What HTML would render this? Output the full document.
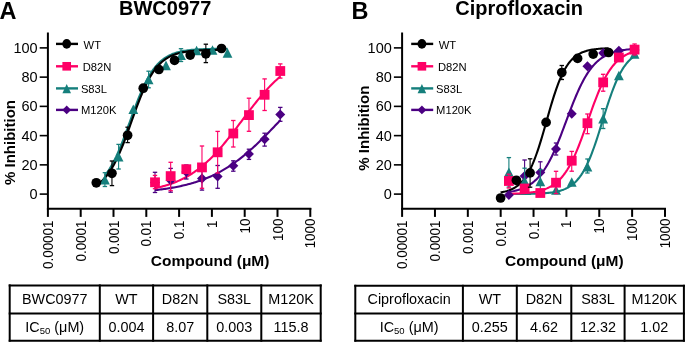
<!DOCTYPE html>
<html><head><meta charset="utf-8"><style>
html,body{margin:0;padding:0;background:#fff;}
svg{display:block;will-change:transform;}
svg text{font-family:"Liberation Sans", sans-serif;fill:#000;}
</style></head><body>
<svg width="685" height="342" viewBox="0 0 685 342">
<rect width="685" height="342" fill="#fff"/>
<text x="-0.6" y="19.2" font-size="23.5" font-weight="bold">A</text>
<line x1="47.90" y1="32.5" x2="47.90" y2="209.9" stroke="#000" stroke-width="2"/>
<line x1="47.90" y1="208.8" x2="311.30" y2="208.8" stroke="#000" stroke-width="2"/>
<line x1="39.70" y1="194.10" x2="47.90" y2="194.10" stroke="#000" stroke-width="1.6"/>
<text x="37.60" y="199.20" font-size="14.5" text-anchor="end">0</text>
<line x1="39.70" y1="164.86" x2="47.90" y2="164.86" stroke="#000" stroke-width="1.6"/>
<text x="37.60" y="169.96" font-size="14.5" text-anchor="end">20</text>
<line x1="39.70" y1="135.62" x2="47.90" y2="135.62" stroke="#000" stroke-width="1.6"/>
<text x="37.60" y="140.72" font-size="14.5" text-anchor="end">40</text>
<line x1="39.70" y1="106.37" x2="47.90" y2="106.37" stroke="#000" stroke-width="1.6"/>
<text x="37.60" y="111.47" font-size="14.5" text-anchor="end">60</text>
<line x1="39.70" y1="77.13" x2="47.90" y2="77.13" stroke="#000" stroke-width="1.6"/>
<text x="37.60" y="82.23" font-size="14.5" text-anchor="end">80</text>
<line x1="39.70" y1="47.89" x2="47.90" y2="47.89" stroke="#000" stroke-width="1.6"/>
<text x="37.60" y="52.99" font-size="14.5" text-anchor="end">100</text>
<line x1="47.90" y1="208" x2="47.90" y2="216.9" stroke="#000" stroke-width="2"/>
<text transform="translate(52.90,220.60) rotate(-90)" font-size="14" text-anchor="end" textLength="48.32" lengthAdjust="spacingAndGlyphs">0.00001</text>
<line x1="80.70" y1="208" x2="80.70" y2="216.9" stroke="#000" stroke-width="2"/>
<text transform="translate(85.70,220.60) rotate(-90)" font-size="14" text-anchor="end" textLength="40.89" lengthAdjust="spacingAndGlyphs">0.0001</text>
<line x1="113.50" y1="208" x2="113.50" y2="216.9" stroke="#000" stroke-width="2"/>
<text transform="translate(118.50,220.60) rotate(-90)" font-size="14" text-anchor="end" textLength="33.45" lengthAdjust="spacingAndGlyphs">0.001</text>
<line x1="146.30" y1="208" x2="146.30" y2="216.9" stroke="#000" stroke-width="2"/>
<text transform="translate(151.30,220.60) rotate(-90)" font-size="14" text-anchor="end" textLength="26.01" lengthAdjust="spacingAndGlyphs">0.01</text>
<line x1="179.10" y1="208" x2="179.10" y2="216.9" stroke="#000" stroke-width="2"/>
<text transform="translate(184.10,220.60) rotate(-90)" font-size="14" text-anchor="end" textLength="18.57" lengthAdjust="spacingAndGlyphs">0.1</text>
<line x1="211.90" y1="208" x2="211.90" y2="216.9" stroke="#000" stroke-width="2"/>
<text transform="translate(216.90,220.60) rotate(-90)" font-size="14" text-anchor="end" textLength="7.44" lengthAdjust="spacingAndGlyphs">1</text>
<line x1="244.70" y1="208" x2="244.70" y2="216.9" stroke="#000" stroke-width="2"/>
<text transform="translate(249.70,218.60) rotate(-90)" font-size="14" text-anchor="end" textLength="14.88" lengthAdjust="spacingAndGlyphs">10</text>
<line x1="277.50" y1="208" x2="277.50" y2="216.9" stroke="#000" stroke-width="2"/>
<text transform="translate(282.50,218.60) rotate(-90)" font-size="14" text-anchor="end" textLength="22.31" lengthAdjust="spacingAndGlyphs">100</text>
<line x1="310.30" y1="208" x2="310.30" y2="216.9" stroke="#000" stroke-width="2"/>
<text transform="translate(315.30,218.60) rotate(-90)" font-size="14" text-anchor="end" textLength="29.75" lengthAdjust="spacingAndGlyphs">1000</text>
<text x="119.00" y="14.6" font-size="20" font-weight="bold">BWC0977</text>
<text x="150.80" y="266" font-size="15.5" font-weight="bold" textLength="118.6" lengthAdjust="spacingAndGlyphs">Compound (μM)</text>
<text transform="translate(15.10,142.50) rotate(-90)" font-size="15" font-weight="bold" text-anchor="middle">% Inhibition</text>
<line x1="56.00" y1="43.90" x2="78.00" y2="43.90" stroke="#000000" stroke-width="2.4"/>
<ellipse cx="66.70" cy="43.90" rx="4.4" ry="4.8" fill="#000000"/>
<text x="83.60" y="48.80" font-size="11.2">WT</text>
<line x1="56.00" y1="66.30" x2="78.00" y2="66.30" stroke="#FF0066" stroke-width="2.4"/>
<rect x="62.39" y="61.99" width="8.62" height="8.62" fill="#FF0066"/>
<text x="82.70" y="70.70" font-size="11.2">D82N</text>
<line x1="56.00" y1="88.40" x2="78.00" y2="88.40" stroke="#157F7C" stroke-width="2.4"/>
<polygon points="66.70,83.90 71.01,93.30 62.39,93.30" fill="#157F7C"/>
<text x="80.90" y="93.00" font-size="11.2">S83L</text>
<line x1="56.00" y1="109.90" x2="78.00" y2="109.90" stroke="#4B0082" stroke-width="2.4"/>
<polygon points="66.70,105.50 71.10,109.90 66.70,114.30 62.30,109.90" fill="#4B0082"/>
<text x="80.90" y="114.40" font-size="11.2">M120K</text>
<polyline points="155.00,190.16 156.27,190.02 157.53,189.87 158.80,189.72 160.06,189.56 161.33,189.40 162.59,189.23 163.86,189.05 165.12,188.87 166.39,188.69 167.65,188.49 168.92,188.29 170.19,188.09 171.45,187.87 172.72,187.65 173.98,187.42 175.25,187.19 176.51,186.95 177.78,186.69 179.04,186.43 180.31,186.16 181.57,185.89 182.84,185.60 184.11,185.30 185.37,185.00 186.64,184.68 187.90,184.35 189.17,184.02 190.43,183.67 191.70,183.31 192.96,182.94 194.23,182.56 195.49,182.17 196.76,181.76 198.03,181.35 199.29,180.92 200.56,180.47 201.82,180.01 203.09,179.54 204.35,179.06 205.62,178.56 206.88,178.05 208.15,177.52 209.41,176.98 210.68,176.42 211.95,175.84 213.21,175.25 214.48,174.65 215.74,174.03 217.01,173.39 218.27,172.73 219.54,172.06 220.80,171.37 222.07,170.66 223.33,169.93 224.60,169.19 225.87,168.43 227.13,167.65 228.40,166.85 229.66,166.03 230.93,165.20 232.19,164.34 233.46,163.47 234.72,162.58 235.99,161.67 237.25,160.74 238.52,159.79 239.79,158.83 241.05,157.85 242.32,156.84 243.58,155.82 244.85,154.78 246.11,153.73 247.38,152.66 248.64,151.57 249.91,150.46 251.17,149.34 252.44,148.20 253.71,147.04 254.97,145.87 256.24,144.69 257.50,143.49 258.77,142.28 260.03,141.05 261.30,139.82 262.56,138.57 263.83,137.31 265.09,136.04 266.36,134.76 267.63,133.47 268.89,132.17 270.16,130.87 271.42,129.56 272.69,128.24 273.95,126.92 275.22,125.60 276.48,124.27 277.75,122.94 279.01,121.61 280.28,120.28" fill="none" stroke="#4B0082" stroke-width="2.1" stroke-linejoin="round"/>
<polyline points="155.00,188.17 156.27,187.90 157.53,187.62 158.80,187.33 160.06,187.02 161.33,186.70 162.59,186.37 163.86,186.03 165.12,185.67 166.39,185.29 167.65,184.90 168.92,184.50 170.19,184.07 171.45,183.63 172.72,183.18 173.98,182.70 175.25,182.20 176.51,181.69 177.78,181.15 179.04,180.60 180.31,180.02 181.57,179.42 182.84,178.80 184.11,178.16 185.37,177.49 186.64,176.80 187.90,176.08 189.17,175.34 190.43,174.57 191.70,173.77 192.96,172.95 194.23,172.10 195.49,171.23 196.76,170.32 198.03,169.39 199.29,168.42 200.56,167.43 201.82,166.41 203.09,165.36 204.35,164.27 205.62,163.16 206.88,162.02 208.15,160.85 209.41,159.65 210.68,158.42 211.95,157.15 213.21,155.86 214.48,154.55 215.74,153.20 217.01,151.82 218.27,150.42 219.54,148.99 220.80,147.54 222.07,146.06 223.33,144.56 224.60,143.04 225.87,141.49 227.13,139.93 228.40,138.34 229.66,136.74 230.93,135.12 232.19,133.49 233.46,131.84 234.72,130.19 235.99,128.52 237.25,126.85 238.52,125.17 239.79,123.48 241.05,121.79 242.32,120.11 243.58,118.42 244.85,116.73 246.11,115.05 247.38,113.38 248.64,111.71 249.91,110.06 251.17,108.41 252.44,106.78 253.71,105.16 254.97,103.56 256.24,101.98 257.50,100.41 258.77,98.87 260.03,97.35 261.30,95.85 262.56,94.37 263.83,92.92 265.09,91.49 266.36,90.09 267.63,88.72 268.89,87.37 270.16,86.06 271.42,84.77 272.69,83.51 273.95,82.28 275.22,81.08 276.48,79.91 277.75,78.77 279.01,77.66 280.28,76.58" fill="none" stroke="#FF0066" stroke-width="2.1" stroke-linejoin="round"/>
<polyline points="104.90,175.51 106.14,173.92 107.38,172.21 108.62,170.39 109.85,168.45 111.09,166.38 112.33,164.20 113.57,161.88 114.81,159.44 116.05,156.88 117.28,154.19 118.52,151.39 119.76,148.48 121.00,145.46 122.24,142.35 123.48,139.15 124.71,135.87 125.95,132.53 127.19,129.14 128.43,125.72 129.67,122.28 130.91,118.84 132.14,115.40 133.38,111.99 134.62,108.63 135.86,105.32 137.10,102.07 138.34,98.91 139.57,95.84 140.81,92.87 142.05,90.01 143.29,87.26 144.53,84.63 145.77,82.13 147.01,79.75 148.24,77.49 149.48,75.36 150.72,73.35 151.96,71.47 153.20,69.70 154.44,68.05 155.67,66.51 156.91,65.08 158.15,63.74 159.39,62.51 160.63,61.36 161.87,60.30 163.10,59.32 164.34,58.42 165.58,57.59 166.82,56.82 168.06,56.12 169.30,55.47 170.53,54.88 171.77,54.34 173.01,53.84 174.25,53.38 175.49,52.97 176.73,52.58 177.96,52.23 179.20,51.91 180.44,51.62 181.68,51.36 182.92,51.11 184.16,50.89 185.39,50.69 186.63,50.50 187.87,50.34 189.11,50.18 190.35,50.04 191.59,49.92 192.83,49.80 194.06,49.69 195.30,49.60 196.54,49.51 197.78,49.43 199.02,49.36 200.26,49.29 201.49,49.23 202.73,49.18 203.97,49.13 205.21,49.08 206.45,49.04 207.69,49.00 208.92,48.97 210.16,48.94 211.40,48.91 212.64,48.88 213.88,48.86 215.12,48.84 216.35,48.82 217.59,48.80 218.83,48.78 220.07,48.77 221.31,48.76 222.55,48.74 223.78,48.73 225.02,48.72 226.26,48.71 227.50,48.70" fill="none" stroke="#157F7C" stroke-width="2.1" stroke-linejoin="round"/>
<polyline points="96.30,185.30 97.56,184.44 98.83,183.52 100.09,182.51 101.36,181.41 102.62,180.22 103.89,178.93 105.15,177.54 106.42,176.04 107.68,174.42 108.95,172.69 110.21,170.83 111.48,168.83 112.74,166.71 114.01,164.46 115.27,162.07 116.53,159.54 117.80,156.88 119.06,154.09 120.33,151.18 121.59,148.14 122.86,145.00 124.12,141.76 125.39,138.42 126.65,135.01 127.92,131.54 129.18,128.03 130.45,124.48 131.71,120.92 132.97,117.37 134.24,113.83 135.50,110.34 136.77,106.90 138.03,103.53 139.30,100.25 140.56,97.06 141.83,93.98 143.09,91.01 144.36,88.16 145.62,85.45 146.89,82.86 148.15,80.41 149.42,78.10 150.68,75.92 151.94,73.87 153.21,71.95 154.47,70.16 155.74,68.49 157.00,66.94 158.27,65.50 159.53,64.17 160.80,62.93 162.06,61.80 163.33,60.75 164.59,59.79 165.86,58.90 167.12,58.09 168.38,57.35 169.65,56.67 170.91,56.04 172.18,55.47 173.44,54.95 174.71,54.48 175.97,54.05 177.24,53.65 178.50,53.29 179.77,52.97 181.03,52.67 182.30,52.40 183.56,52.15 184.83,51.93 186.09,51.73 187.35,51.54 188.62,51.37 189.88,51.22 191.15,51.08 192.41,50.96 193.68,50.84 194.94,50.74 196.21,50.64 197.47,50.56 198.74,50.48 200.00,50.41 201.27,50.35 202.53,50.29 203.79,50.24 205.06,50.19 206.32,50.15 207.59,50.11 208.85,50.07 210.12,50.04 211.38,50.01 212.65,49.99 213.91,49.96 215.18,49.94 216.44,49.92 217.71,49.90 218.97,49.89 220.24,49.87 221.50,49.86" fill="none" stroke="#000000" stroke-width="2.1" stroke-linejoin="round"/>
<line x1="155.00" y1="172.30" x2="155.00" y2="192.50" stroke="#4B0082" stroke-width="1.1"/><line x1="152.80" y1="172.30" x2="157.20" y2="172.30" stroke="#4B0082" stroke-width="1.3"/><line x1="152.80" y1="192.50" x2="157.20" y2="192.50" stroke="#4B0082" stroke-width="1.3"/>
<line x1="170.66" y1="168.40" x2="170.66" y2="192.20" stroke="#4B0082" stroke-width="1.1"/><line x1="168.46" y1="168.40" x2="172.86" y2="168.40" stroke="#4B0082" stroke-width="1.3"/><line x1="168.46" y1="192.20" x2="172.86" y2="192.20" stroke="#4B0082" stroke-width="1.3"/>
<line x1="186.32" y1="165.00" x2="186.32" y2="179.00" stroke="#4B0082" stroke-width="1.1"/><line x1="184.12" y1="165.00" x2="188.52" y2="165.00" stroke="#4B0082" stroke-width="1.3"/><line x1="184.12" y1="179.00" x2="188.52" y2="179.00" stroke="#4B0082" stroke-width="1.3"/>
<line x1="201.98" y1="166.70" x2="201.98" y2="190.10" stroke="#4B0082" stroke-width="1.1"/><line x1="199.78" y1="166.70" x2="204.18" y2="166.70" stroke="#4B0082" stroke-width="1.3"/><line x1="199.78" y1="190.10" x2="204.18" y2="190.10" stroke="#4B0082" stroke-width="1.3"/>
<line x1="217.64" y1="165.50" x2="217.64" y2="188.30" stroke="#4B0082" stroke-width="1.1"/><line x1="215.44" y1="165.50" x2="219.84" y2="165.50" stroke="#4B0082" stroke-width="1.3"/><line x1="215.44" y1="188.30" x2="219.84" y2="188.30" stroke="#4B0082" stroke-width="1.3"/>
<line x1="233.30" y1="160.80" x2="233.30" y2="171.20" stroke="#4B0082" stroke-width="1.1"/><line x1="231.10" y1="160.80" x2="235.50" y2="160.80" stroke="#4B0082" stroke-width="1.3"/><line x1="231.10" y1="171.20" x2="235.50" y2="171.20" stroke="#4B0082" stroke-width="1.3"/>
<line x1="248.96" y1="149.20" x2="248.96" y2="159.40" stroke="#4B0082" stroke-width="1.1"/><line x1="246.76" y1="149.20" x2="251.16" y2="149.20" stroke="#4B0082" stroke-width="1.3"/><line x1="246.76" y1="159.40" x2="251.16" y2="159.40" stroke="#4B0082" stroke-width="1.3"/>
<line x1="264.62" y1="133.20" x2="264.62" y2="146.10" stroke="#4B0082" stroke-width="1.1"/><line x1="262.42" y1="133.20" x2="266.82" y2="133.20" stroke="#4B0082" stroke-width="1.3"/><line x1="262.42" y1="146.10" x2="266.82" y2="146.10" stroke="#4B0082" stroke-width="1.3"/>
<line x1="280.28" y1="107.40" x2="280.28" y2="121.30" stroke="#4B0082" stroke-width="1.1"/><line x1="278.08" y1="107.40" x2="282.48" y2="107.40" stroke="#4B0082" stroke-width="1.3"/><line x1="278.08" y1="121.30" x2="282.48" y2="121.30" stroke="#4B0082" stroke-width="1.3"/>
<polygon points="155.00,177.40 160.00,182.40 155.00,187.40 150.00,182.40" fill="#4B0082"/>
<polygon points="170.66,175.30 175.66,180.30 170.66,185.30 165.66,180.30" fill="#4B0082"/>
<polygon points="186.32,167.00 191.32,172.00 186.32,177.00 181.32,172.00" fill="#4B0082"/>
<polygon points="201.98,173.40 206.98,178.40 201.98,183.40 196.98,178.40" fill="#4B0082"/>
<polygon points="217.64,171.60 222.64,176.60 217.64,181.60 212.64,176.60" fill="#4B0082"/>
<polygon points="233.30,160.70 238.30,165.70 233.30,170.70 228.30,165.70" fill="#4B0082"/>
<polygon points="248.96,148.90 253.96,153.90 248.96,158.90 243.96,153.90" fill="#4B0082"/>
<polygon points="264.62,134.30 269.62,139.30 264.62,144.30 259.62,139.30" fill="#4B0082"/>
<polygon points="280.28,109.40 285.28,114.40 280.28,119.40 275.28,114.40" fill="#4B0082"/>
<line x1="155.00" y1="175.40" x2="155.00" y2="188.70" stroke="#FF0066" stroke-width="1.1"/><line x1="152.80" y1="175.40" x2="157.20" y2="175.40" stroke="#FF0066" stroke-width="1.3"/><line x1="152.80" y1="188.70" x2="157.20" y2="188.70" stroke="#FF0066" stroke-width="1.3"/>
<line x1="170.66" y1="162.30" x2="170.66" y2="190.70" stroke="#FF0066" stroke-width="1.1"/><line x1="168.46" y1="162.30" x2="172.86" y2="162.30" stroke="#FF0066" stroke-width="1.3"/><line x1="168.46" y1="190.70" x2="172.86" y2="190.70" stroke="#FF0066" stroke-width="1.3"/>
<line x1="201.98" y1="146.00" x2="201.98" y2="188.30" stroke="#FF0066" stroke-width="1.1"/><line x1="199.78" y1="146.00" x2="204.18" y2="146.00" stroke="#FF0066" stroke-width="1.3"/><line x1="199.78" y1="188.30" x2="204.18" y2="188.30" stroke="#FF0066" stroke-width="1.3"/>
<line x1="217.64" y1="131.40" x2="217.64" y2="173.00" stroke="#FF0066" stroke-width="1.1"/><line x1="215.44" y1="131.40" x2="219.84" y2="131.40" stroke="#FF0066" stroke-width="1.3"/><line x1="215.44" y1="173.00" x2="219.84" y2="173.00" stroke="#FF0066" stroke-width="1.3"/>
<line x1="233.30" y1="120.50" x2="233.30" y2="147.00" stroke="#FF0066" stroke-width="1.1"/><line x1="231.10" y1="120.50" x2="235.50" y2="120.50" stroke="#FF0066" stroke-width="1.3"/><line x1="231.10" y1="147.00" x2="235.50" y2="147.00" stroke="#FF0066" stroke-width="1.3"/>
<line x1="248.96" y1="98.20" x2="248.96" y2="131.30" stroke="#FF0066" stroke-width="1.1"/><line x1="246.76" y1="98.20" x2="251.16" y2="98.20" stroke="#FF0066" stroke-width="1.3"/><line x1="246.76" y1="131.30" x2="251.16" y2="131.30" stroke="#FF0066" stroke-width="1.3"/>
<line x1="264.62" y1="78.90" x2="264.62" y2="110.50" stroke="#FF0066" stroke-width="1.1"/><line x1="262.42" y1="78.90" x2="266.82" y2="78.90" stroke="#FF0066" stroke-width="1.3"/><line x1="262.42" y1="110.50" x2="266.82" y2="110.50" stroke="#FF0066" stroke-width="1.3"/>
<line x1="280.28" y1="63.90" x2="280.28" y2="78.10" stroke="#FF0066" stroke-width="1.1"/><line x1="278.08" y1="63.90" x2="282.48" y2="63.90" stroke="#FF0066" stroke-width="1.3"/><line x1="278.08" y1="78.10" x2="282.48" y2="78.10" stroke="#FF0066" stroke-width="1.3"/>
<rect x="150.10" y="177.40" width="9.80" height="9.80" fill="#FF0066"/>
<rect x="165.76" y="171.20" width="9.80" height="9.80" fill="#FF0066"/>
<rect x="181.42" y="164.30" width="9.80" height="9.80" fill="#FF0066"/>
<rect x="197.08" y="162.50" width="9.80" height="9.80" fill="#FF0066"/>
<rect x="212.74" y="147.40" width="9.80" height="9.80" fill="#FF0066"/>
<rect x="228.40" y="128.60" width="9.80" height="9.80" fill="#FF0066"/>
<rect x="244.06" y="110.20" width="9.80" height="9.80" fill="#FF0066"/>
<rect x="259.72" y="89.90" width="9.80" height="9.80" fill="#FF0066"/>
<rect x="275.38" y="66.10" width="9.80" height="9.80" fill="#FF0066"/>
<line x1="104.90" y1="172.70" x2="104.90" y2="186.50" stroke="#157F7C" stroke-width="1.1"/><line x1="102.70" y1="172.70" x2="107.10" y2="172.70" stroke="#157F7C" stroke-width="1.3"/><line x1="102.70" y1="186.50" x2="107.10" y2="186.50" stroke="#157F7C" stroke-width="1.3"/>
<line x1="118.60" y1="144.40" x2="118.60" y2="169.00" stroke="#157F7C" stroke-width="1.1"/><line x1="116.40" y1="144.40" x2="120.80" y2="144.40" stroke="#157F7C" stroke-width="1.3"/><line x1="116.40" y1="169.00" x2="120.80" y2="169.00" stroke="#157F7C" stroke-width="1.3"/>
<line x1="148.60" y1="71.20" x2="148.60" y2="87.80" stroke="#157F7C" stroke-width="1.1"/><line x1="146.40" y1="71.20" x2="150.80" y2="71.20" stroke="#157F7C" stroke-width="1.3"/><line x1="146.40" y1="87.80" x2="150.80" y2="87.80" stroke="#157F7C" stroke-width="1.3"/>
<line x1="181.00" y1="48.70" x2="181.00" y2="61.50" stroke="#157F7C" stroke-width="1.1"/><line x1="178.80" y1="48.70" x2="183.20" y2="48.70" stroke="#157F7C" stroke-width="1.3"/><line x1="178.80" y1="61.50" x2="183.20" y2="61.50" stroke="#157F7C" stroke-width="1.3"/>
<polygon points="104.90,174.80 109.80,184.40 100.00,184.40" fill="#157F7C"/>
<polygon points="118.60,151.90 123.50,161.50 113.70,161.50" fill="#157F7C"/>
<polygon points="133.30,104.50 138.20,114.10 128.40,114.10" fill="#157F7C"/>
<polygon points="148.60,74.70 153.50,84.30 143.70,84.30" fill="#157F7C"/>
<polygon points="166.00,60.60 170.90,70.20 161.10,70.20" fill="#157F7C"/>
<polygon points="181.00,50.30 185.90,59.90 176.10,59.90" fill="#157F7C"/>
<polygon points="196.60,45.70 201.50,55.30 191.70,55.30" fill="#157F7C"/>
<polygon points="212.50,45.20 217.40,54.80 207.60,54.80" fill="#157F7C"/>
<polygon points="227.50,48.10 232.40,57.70 222.60,57.70" fill="#157F7C"/>
<line x1="111.95" y1="161.00" x2="111.95" y2="185.60" stroke="#000000" stroke-width="1.1"/><line x1="109.75" y1="161.00" x2="114.15" y2="161.00" stroke="#000000" stroke-width="1.3"/><line x1="109.75" y1="185.60" x2="114.15" y2="185.60" stroke="#000000" stroke-width="1.3"/>
<line x1="127.60" y1="127.20" x2="127.60" y2="142.60" stroke="#000000" stroke-width="1.1"/><line x1="125.40" y1="127.20" x2="129.80" y2="127.20" stroke="#000000" stroke-width="1.3"/><line x1="125.40" y1="142.60" x2="129.80" y2="142.60" stroke="#000000" stroke-width="1.3"/>
<line x1="205.85" y1="44.20" x2="205.85" y2="62.60" stroke="#000000" stroke-width="1.1"/><line x1="203.65" y1="44.20" x2="208.05" y2="44.20" stroke="#000000" stroke-width="1.3"/><line x1="203.65" y1="62.60" x2="208.05" y2="62.60" stroke="#000000" stroke-width="1.3"/>
<circle cx="96.30" cy="182.80" r="4.85" fill="#000000"/>
<circle cx="111.95" cy="173.30" r="4.85" fill="#000000"/>
<circle cx="127.60" cy="135.30" r="4.85" fill="#000000"/>
<circle cx="143.25" cy="88.20" r="4.85" fill="#000000"/>
<circle cx="158.90" cy="69.50" r="4.85" fill="#000000"/>
<circle cx="174.55" cy="60.40" r="4.85" fill="#000000"/>
<circle cx="190.20" cy="55.10" r="4.85" fill="#000000"/>
<circle cx="205.85" cy="53.80" r="4.85" fill="#000000"/>
<circle cx="221.50" cy="48.50" r="4.85" fill="#000000"/>
<text x="351.6" y="19.2" font-size="23.5" font-weight="bold">B</text>
<line x1="402.10" y1="32.5" x2="402.10" y2="209.9" stroke="#000" stroke-width="2"/>
<line x1="402.10" y1="208.8" x2="665.98" y2="208.8" stroke="#000" stroke-width="2"/>
<line x1="393.90" y1="194.10" x2="402.10" y2="194.10" stroke="#000" stroke-width="1.6"/>
<text x="391.80" y="199.20" font-size="14.5" text-anchor="end">0</text>
<line x1="393.90" y1="164.86" x2="402.10" y2="164.86" stroke="#000" stroke-width="1.6"/>
<text x="391.80" y="169.96" font-size="14.5" text-anchor="end">20</text>
<line x1="393.90" y1="135.62" x2="402.10" y2="135.62" stroke="#000" stroke-width="1.6"/>
<text x="391.80" y="140.72" font-size="14.5" text-anchor="end">40</text>
<line x1="393.90" y1="106.37" x2="402.10" y2="106.37" stroke="#000" stroke-width="1.6"/>
<text x="391.80" y="111.47" font-size="14.5" text-anchor="end">60</text>
<line x1="393.90" y1="77.13" x2="402.10" y2="77.13" stroke="#000" stroke-width="1.6"/>
<text x="391.80" y="82.23" font-size="14.5" text-anchor="end">80</text>
<line x1="393.90" y1="47.89" x2="402.10" y2="47.89" stroke="#000" stroke-width="1.6"/>
<text x="391.80" y="52.99" font-size="14.5" text-anchor="end">100</text>
<line x1="402.10" y1="208" x2="402.10" y2="216.9" stroke="#000" stroke-width="2"/>
<text transform="translate(407.10,220.60) rotate(-90)" font-size="14" text-anchor="end" textLength="48.32" lengthAdjust="spacingAndGlyphs">0.00001</text>
<line x1="434.96" y1="208" x2="434.96" y2="216.9" stroke="#000" stroke-width="2"/>
<text transform="translate(439.96,220.60) rotate(-90)" font-size="14" text-anchor="end" textLength="40.89" lengthAdjust="spacingAndGlyphs">0.0001</text>
<line x1="467.82" y1="208" x2="467.82" y2="216.9" stroke="#000" stroke-width="2"/>
<text transform="translate(472.82,220.60) rotate(-90)" font-size="14" text-anchor="end" textLength="33.45" lengthAdjust="spacingAndGlyphs">0.001</text>
<line x1="500.68" y1="208" x2="500.68" y2="216.9" stroke="#000" stroke-width="2"/>
<text transform="translate(505.68,220.60) rotate(-90)" font-size="14" text-anchor="end" textLength="26.01" lengthAdjust="spacingAndGlyphs">0.01</text>
<line x1="533.54" y1="208" x2="533.54" y2="216.9" stroke="#000" stroke-width="2"/>
<text transform="translate(538.54,220.60) rotate(-90)" font-size="14" text-anchor="end" textLength="18.57" lengthAdjust="spacingAndGlyphs">0.1</text>
<line x1="566.40" y1="208" x2="566.40" y2="216.9" stroke="#000" stroke-width="2"/>
<text transform="translate(571.40,220.60) rotate(-90)" font-size="14" text-anchor="end" textLength="7.44" lengthAdjust="spacingAndGlyphs">1</text>
<line x1="599.26" y1="208" x2="599.26" y2="216.9" stroke="#000" stroke-width="2"/>
<text transform="translate(604.26,218.60) rotate(-90)" font-size="14" text-anchor="end" textLength="14.88" lengthAdjust="spacingAndGlyphs">10</text>
<line x1="632.12" y1="208" x2="632.12" y2="216.9" stroke="#000" stroke-width="2"/>
<text transform="translate(637.12,218.60) rotate(-90)" font-size="14" text-anchor="end" textLength="22.31" lengthAdjust="spacingAndGlyphs">100</text>
<line x1="664.98" y1="208" x2="664.98" y2="216.9" stroke="#000" stroke-width="2"/>
<text transform="translate(669.98,218.60) rotate(-90)" font-size="14" text-anchor="end" textLength="29.75" lengthAdjust="spacingAndGlyphs">1000</text>
<text x="455.30" y="14.6" font-size="20" font-weight="bold">Ciprofloxacin</text>
<text x="505.00" y="266" font-size="15.5" font-weight="bold" textLength="118.6" lengthAdjust="spacingAndGlyphs">Compound (μM)</text>
<text transform="translate(369.30,128.20) rotate(-90)" font-size="15" font-weight="bold" text-anchor="middle">% Inhibition</text>
<line x1="411.20" y1="43.90" x2="433.20" y2="43.90" stroke="#000000" stroke-width="2.4"/>
<ellipse cx="421.90" cy="43.90" rx="4.4" ry="4.8" fill="#000000"/>
<text x="438.80" y="48.80" font-size="11.2">WT</text>
<line x1="411.20" y1="66.30" x2="433.20" y2="66.30" stroke="#FF0066" stroke-width="2.4"/>
<rect x="417.59" y="61.99" width="8.62" height="8.62" fill="#FF0066"/>
<text x="437.90" y="70.70" font-size="11.2">D82N</text>
<line x1="411.20" y1="88.40" x2="433.20" y2="88.40" stroke="#157F7C" stroke-width="2.4"/>
<polygon points="421.90,83.90 426.21,93.30 417.59,93.30" fill="#157F7C"/>
<text x="436.10" y="93.00" font-size="11.2">S83L</text>
<line x1="411.20" y1="109.90" x2="433.20" y2="109.90" stroke="#4B0082" stroke-width="2.4"/>
<polygon points="421.90,105.50 426.30,109.90 421.90,114.30 417.50,109.90" fill="#4B0082"/>
<text x="436.10" y="114.40" font-size="11.2">M120K</text>
<polyline points="508.90,191.95 510.17,191.74 511.44,191.51 512.71,191.27 513.98,191.00 515.25,190.70 516.52,190.38 517.79,190.03 519.06,189.64 520.33,189.22 521.59,188.76 522.86,188.26 524.13,187.72 525.40,187.12 526.67,186.48 527.94,185.78 529.21,185.02 530.48,184.19 531.75,183.30 533.02,182.33 534.29,181.28 535.56,180.15 536.83,178.93 538.10,177.62 539.37,176.21 540.64,174.70 541.91,173.08 543.18,171.35 544.45,169.50 545.72,167.54 546.98,165.45 548.25,163.25 549.52,160.92 550.79,158.48 552.06,155.91 553.33,153.23 554.60,150.43 555.87,147.53 557.14,144.53 558.41,141.44 559.68,138.26 560.95,135.02 562.22,131.71 563.49,128.37 564.76,124.99 566.03,121.59 567.30,118.19 568.57,114.80 569.84,111.44 571.11,108.12 572.37,104.85 573.64,101.65 574.91,98.53 576.18,95.50 577.45,92.56 578.72,89.73 579.99,87.00 581.26,84.40 582.53,81.91 583.80,79.54 585.07,77.29 586.34,75.17 587.61,73.16 588.88,71.28 590.15,69.50 591.42,67.85 592.69,66.30 593.96,64.85 595.23,63.50 596.50,62.25 597.76,61.09 599.03,60.02 600.30,59.02 601.57,58.10 602.84,57.25 604.11,56.47 605.38,55.75 606.65,55.08 607.92,54.47 609.19,53.91 610.46,53.40 611.73,52.93 613.00,52.49 614.27,52.09 615.54,51.73 616.81,51.40 618.08,51.09 619.35,50.81 620.62,50.56 621.89,50.33 623.15,50.11 624.42,49.92 625.69,49.74 626.96,49.58 628.23,49.43 629.50,49.29 630.77,49.17 632.04,49.06 633.31,48.95 634.58,48.86" fill="none" stroke="#4B0082" stroke-width="2.1" stroke-linejoin="round"/>
<polyline points="508.90,194.06 510.17,194.06 511.44,194.05 512.71,194.05 513.98,194.04 515.25,194.04 516.52,194.03 517.79,194.02 519.06,194.01 520.33,194.00 521.59,193.99 522.86,193.97 524.13,193.96 525.40,193.94 526.67,193.92 527.94,193.90 529.21,193.88 530.48,193.85 531.75,193.82 533.02,193.79 534.29,193.75 535.56,193.71 536.83,193.67 538.10,193.62 539.37,193.56 540.64,193.49 541.91,193.42 543.18,193.34 544.45,193.25 545.72,193.15 546.98,193.04 548.25,192.92 549.52,192.78 550.79,192.62 552.06,192.45 553.33,192.25 554.60,192.03 555.87,191.79 557.14,191.52 558.41,191.22 559.68,190.89 560.95,190.51 562.22,190.10 563.49,189.64 564.76,189.12 566.03,188.55 567.30,187.92 568.57,187.22 569.84,186.44 571.11,185.59 572.37,184.64 573.64,183.59 574.91,182.44 576.18,181.18 577.45,179.79 578.72,178.27 579.99,176.61 581.26,174.81 582.53,172.84 583.80,170.72 585.07,168.43 586.34,165.96 587.61,163.31 588.88,160.49 590.15,157.49 591.42,154.32 592.69,150.99 593.96,147.49 595.23,143.85 596.50,140.08 597.76,136.20 599.03,132.22 600.30,128.18 601.57,124.09 602.84,119.98 604.11,115.88 605.38,111.81 606.65,107.80 607.92,103.87 609.19,100.04 610.46,96.33 611.73,92.76 613.00,89.34 614.27,86.08 615.54,82.99 616.81,80.08 618.08,77.35 619.35,74.79 620.62,72.41 621.89,70.20 623.15,68.16 624.42,66.27 625.69,64.54 626.96,62.95 628.23,61.50 629.50,60.17 630.77,58.97 632.04,57.87 633.31,56.87 634.58,55.97" fill="none" stroke="#157F7C" stroke-width="2.1" stroke-linejoin="round"/>
<polyline points="508.90,193.80 510.17,193.77 511.44,193.73 512.71,193.70 513.98,193.65 515.25,193.61 516.52,193.56 517.79,193.50 519.06,193.44 520.33,193.37 521.59,193.29 522.86,193.21 524.13,193.11 525.40,193.01 526.67,192.90 527.94,192.78 529.21,192.64 530.48,192.49 531.75,192.32 533.02,192.14 534.29,191.93 535.56,191.71 536.83,191.46 538.10,191.19 539.37,190.90 540.64,190.57 541.91,190.21 543.18,189.81 544.45,189.38 545.72,188.90 546.98,188.38 548.25,187.81 549.52,187.18 550.79,186.50 552.06,185.75 553.33,184.93 554.60,184.03 555.87,183.06 557.14,182.00 558.41,180.85 559.68,179.60 560.95,178.24 562.22,176.78 563.49,175.20 564.76,173.50 566.03,171.68 567.30,169.72 568.57,167.63 569.84,165.40 571.11,163.04 572.37,160.53 573.64,157.89 574.91,155.11 576.18,152.20 577.45,149.16 578.72,146.01 579.99,142.74 581.26,139.38 582.53,135.93 583.80,132.41 585.07,128.83 586.34,125.22 587.61,121.59 588.88,117.95 590.15,114.33 591.42,110.74 592.69,107.20 593.96,103.73 595.23,100.33 596.50,97.03 597.76,93.84 599.03,90.76 600.30,87.81 601.57,84.99 602.84,82.30 604.11,79.75 605.38,77.34 606.65,75.07 607.92,72.93 609.19,70.94 610.46,69.07 611.73,67.33 613.00,65.71 614.27,64.21 615.54,62.82 616.81,61.54 618.08,60.36 619.35,59.27 620.62,58.27 621.89,57.35 623.15,56.50 624.42,55.73 625.69,55.02 626.96,54.38 628.23,53.79 629.50,53.25 630.77,52.76 632.04,52.31 633.31,51.90 634.58,51.53" fill="none" stroke="#FF0066" stroke-width="2.1" stroke-linejoin="round"/>
<polyline points="500.60,192.40 501.69,192.22 502.78,192.01 503.87,191.78 504.96,191.53 506.05,191.25 507.15,190.94 508.24,190.60 509.33,190.22 510.42,189.80 511.51,189.34 512.60,188.82 513.69,188.26 514.78,187.64 515.87,186.96 516.96,186.20 518.05,185.38 519.15,184.47 520.24,183.48 521.33,182.39 522.42,181.20 523.51,179.91 524.60,178.50 525.69,176.96 526.78,175.30 527.87,173.51 528.96,171.57 530.05,169.48 531.15,167.25 532.24,164.86 533.33,162.31 534.42,159.61 535.51,156.75 536.60,153.74 537.69,150.59 538.78,147.30 539.87,143.88 540.96,140.35 542.05,136.71 543.15,133.00 544.24,129.22 545.33,125.39 546.42,121.54 547.51,117.69 548.60,113.85 549.69,110.05 550.78,106.32 551.87,102.66 552.96,99.10 554.05,95.64 555.15,92.32 556.24,89.12 557.33,86.07 558.42,83.17 559.51,80.43 560.60,77.84 561.69,75.40 562.78,73.12 563.87,71.00 564.96,69.02 566.05,67.18 567.15,65.48 568.24,63.91 569.33,62.47 570.42,61.14 571.51,59.92 572.60,58.81 573.69,57.79 574.78,56.86 575.87,56.01 576.96,55.24 578.05,54.54 579.15,53.90 580.24,53.32 581.33,52.79 582.42,52.32 583.51,51.89 584.60,51.50 585.69,51.14 586.78,50.82 587.87,50.54 588.96,50.28 590.05,50.04 591.15,49.83 592.24,49.64 593.33,49.46 594.42,49.31 595.51,49.17 596.60,49.04 597.69,48.93 598.78,48.82 599.87,48.73 600.96,48.65 602.05,48.57 603.15,48.50 604.24,48.44 605.33,48.39 606.42,48.34 607.51,48.29 608.60,48.25" fill="none" stroke="#000000" stroke-width="2.1" stroke-linejoin="round"/>
<line x1="524.61" y1="160.00" x2="524.61" y2="192.00" stroke="#4B0082" stroke-width="1.1"/><line x1="522.41" y1="160.00" x2="526.81" y2="160.00" stroke="#4B0082" stroke-width="1.3"/><line x1="522.41" y1="192.00" x2="526.81" y2="192.00" stroke="#4B0082" stroke-width="1.3"/>
<line x1="540.32" y1="161.80" x2="540.32" y2="183.20" stroke="#4B0082" stroke-width="1.1"/><line x1="538.12" y1="161.80" x2="542.52" y2="161.80" stroke="#4B0082" stroke-width="1.3"/><line x1="538.12" y1="183.20" x2="542.52" y2="183.20" stroke="#4B0082" stroke-width="1.3"/>
<line x1="556.03" y1="143.00" x2="556.03" y2="155.00" stroke="#4B0082" stroke-width="1.1"/><line x1="553.83" y1="143.00" x2="558.23" y2="143.00" stroke="#4B0082" stroke-width="1.3"/><line x1="553.83" y1="155.00" x2="558.23" y2="155.00" stroke="#4B0082" stroke-width="1.3"/>
<polygon points="508.90,190.00 513.90,195.00 508.90,200.00 503.90,195.00" fill="#4B0082"/>
<polygon points="524.61,171.00 529.61,176.00 524.61,181.00 519.61,176.00" fill="#4B0082"/>
<polygon points="540.32,167.50 545.32,172.50 540.32,177.50 535.32,172.50" fill="#4B0082"/>
<polygon points="556.03,144.00 561.03,149.00 556.03,154.00 551.03,149.00" fill="#4B0082"/>
<polygon points="571.74,108.80 576.74,113.80 571.74,118.80 566.74,113.80" fill="#4B0082"/>
<polygon points="587.45,61.20 592.45,66.20 587.45,71.20 582.45,66.20" fill="#4B0082"/>
<polygon points="603.16,48.00 608.16,53.00 603.16,58.00 598.16,53.00" fill="#4B0082"/>
<polygon points="618.87,45.80 623.87,50.80 618.87,55.80 613.87,50.80" fill="#4B0082"/>
<polygon points="634.58,45.00 639.58,50.00 634.58,55.00 629.58,50.00" fill="#4B0082"/>
<line x1="508.90" y1="157.60" x2="508.90" y2="187.00" stroke="#157F7C" stroke-width="1.1"/><line x1="506.70" y1="157.60" x2="511.10" y2="157.60" stroke="#157F7C" stroke-width="1.3"/><line x1="506.70" y1="187.00" x2="511.10" y2="187.00" stroke="#157F7C" stroke-width="1.3"/>
<line x1="524.61" y1="168.20" x2="524.61" y2="190.00" stroke="#157F7C" stroke-width="1.1"/><line x1="522.41" y1="168.20" x2="526.81" y2="168.20" stroke="#157F7C" stroke-width="1.3"/><line x1="522.41" y1="190.00" x2="526.81" y2="190.00" stroke="#157F7C" stroke-width="1.3"/>
<line x1="540.32" y1="169.60" x2="540.32" y2="193.40" stroke="#157F7C" stroke-width="1.1"/><line x1="538.12" y1="169.60" x2="542.52" y2="169.60" stroke="#157F7C" stroke-width="1.3"/><line x1="538.12" y1="193.40" x2="542.52" y2="193.40" stroke="#157F7C" stroke-width="1.3"/>
<line x1="587.45" y1="159.00" x2="587.45" y2="173.00" stroke="#157F7C" stroke-width="1.1"/><line x1="585.25" y1="159.00" x2="589.65" y2="159.00" stroke="#157F7C" stroke-width="1.3"/><line x1="585.25" y1="173.00" x2="589.65" y2="173.00" stroke="#157F7C" stroke-width="1.3"/>
<line x1="603.16" y1="108.70" x2="603.16" y2="128.50" stroke="#157F7C" stroke-width="1.1"/><line x1="600.96" y1="108.70" x2="605.36" y2="108.70" stroke="#157F7C" stroke-width="1.3"/><line x1="600.96" y1="128.50" x2="605.36" y2="128.50" stroke="#157F7C" stroke-width="1.3"/>
<polygon points="508.90,167.50 513.80,177.10 504.00,177.10" fill="#157F7C"/>
<polygon points="524.61,176.20 529.51,185.80 519.71,185.80" fill="#157F7C"/>
<polygon points="540.32,176.70 545.22,186.30 535.42,186.30" fill="#157F7C"/>
<polygon points="556.03,185.20 560.93,194.80 551.13,194.80" fill="#157F7C"/>
<polygon points="571.74,177.20 576.64,186.80 566.84,186.80" fill="#157F7C"/>
<polygon points="587.45,161.90 592.35,171.50 582.55,171.50" fill="#157F7C"/>
<polygon points="603.16,113.80 608.06,123.40 598.26,123.40" fill="#157F7C"/>
<polygon points="618.87,70.70 623.77,80.30 613.97,80.30" fill="#157F7C"/>
<polygon points="634.58,49.20 639.48,58.80 629.68,58.80" fill="#157F7C"/>
<line x1="508.90" y1="174.20" x2="508.90" y2="188.00" stroke="#FF0066" stroke-width="1.1"/><line x1="506.70" y1="174.20" x2="511.10" y2="174.20" stroke="#FF0066" stroke-width="1.3"/><line x1="506.70" y1="188.00" x2="511.10" y2="188.00" stroke="#FF0066" stroke-width="1.3"/>
<line x1="556.03" y1="171.30" x2="556.03" y2="193.60" stroke="#FF0066" stroke-width="1.1"/><line x1="553.83" y1="171.30" x2="558.23" y2="171.30" stroke="#FF0066" stroke-width="1.3"/><line x1="553.83" y1="193.60" x2="558.23" y2="193.60" stroke="#FF0066" stroke-width="1.3"/>
<line x1="571.74" y1="151.40" x2="571.74" y2="171.20" stroke="#FF0066" stroke-width="1.1"/><line x1="569.54" y1="151.40" x2="573.94" y2="151.40" stroke="#FF0066" stroke-width="1.3"/><line x1="569.54" y1="171.20" x2="573.94" y2="171.20" stroke="#FF0066" stroke-width="1.3"/>
<line x1="587.45" y1="114.00" x2="587.45" y2="133.70" stroke="#FF0066" stroke-width="1.1"/><line x1="585.25" y1="114.00" x2="589.65" y2="114.00" stroke="#FF0066" stroke-width="1.3"/><line x1="585.25" y1="133.70" x2="589.65" y2="133.70" stroke="#FF0066" stroke-width="1.3"/>
<line x1="603.16" y1="74.30" x2="603.16" y2="91.20" stroke="#FF0066" stroke-width="1.1"/><line x1="600.96" y1="74.30" x2="605.36" y2="74.30" stroke="#FF0066" stroke-width="1.3"/><line x1="600.96" y1="91.20" x2="605.36" y2="91.20" stroke="#FF0066" stroke-width="1.3"/>
<line x1="634.58" y1="44.00" x2="634.58" y2="55.00" stroke="#FF0066" stroke-width="1.1"/><line x1="632.38" y1="44.00" x2="636.78" y2="44.00" stroke="#FF0066" stroke-width="1.3"/><line x1="632.38" y1="55.00" x2="636.78" y2="55.00" stroke="#FF0066" stroke-width="1.3"/>
<rect x="504.00" y="176.10" width="9.80" height="9.80" fill="#FF0066"/>
<rect x="519.71" y="183.60" width="9.80" height="9.80" fill="#FF0066"/>
<rect x="535.42" y="188.10" width="9.80" height="9.80" fill="#FF0066"/>
<rect x="551.13" y="177.80" width="9.80" height="9.80" fill="#FF0066"/>
<rect x="566.84" y="155.80" width="9.80" height="9.80" fill="#FF0066"/>
<rect x="582.55" y="118.30" width="9.80" height="9.80" fill="#FF0066"/>
<rect x="598.26" y="77.50" width="9.80" height="9.80" fill="#FF0066"/>
<rect x="613.97" y="52.60" width="9.80" height="9.80" fill="#FF0066"/>
<rect x="629.68" y="44.70" width="9.80" height="9.80" fill="#FF0066"/>
<line x1="530.10" y1="158.80" x2="530.10" y2="187.20" stroke="#000000" stroke-width="1.1"/><line x1="527.90" y1="158.80" x2="532.30" y2="158.80" stroke="#000000" stroke-width="1.3"/><line x1="527.90" y1="187.20" x2="532.30" y2="187.20" stroke="#000000" stroke-width="1.3"/>
<line x1="561.80" y1="65.50" x2="561.80" y2="79.50" stroke="#000000" stroke-width="1.1"/><line x1="559.60" y1="65.50" x2="564.00" y2="65.50" stroke="#000000" stroke-width="1.3"/><line x1="559.60" y1="79.50" x2="564.00" y2="79.50" stroke="#000000" stroke-width="1.3"/>
<circle cx="500.60" cy="198.00" r="4.85" fill="#000000"/>
<circle cx="516.40" cy="180.30" r="4.85" fill="#000000"/>
<circle cx="530.10" cy="172.90" r="4.85" fill="#000000"/>
<circle cx="546.10" cy="122.40" r="4.85" fill="#000000"/>
<circle cx="561.80" cy="72.50" r="4.85" fill="#000000"/>
<circle cx="577.60" cy="58.40" r="4.85" fill="#000000"/>
<circle cx="593.20" cy="54.10" r="4.85" fill="#000000"/>
<circle cx="608.60" cy="52.50" r="4.85" fill="#000000"/>
<line x1="8.70" y1="285.40" x2="321.70" y2="285.40" stroke="#000" stroke-width="2"/>
<line x1="8.70" y1="313.60" x2="321.70" y2="313.60" stroke="#000" stroke-width="2"/>
<line x1="8.70" y1="340.70" x2="321.70" y2="340.70" stroke="#000" stroke-width="2"/>
<line x1="9.70" y1="284.40" x2="9.70" y2="341.70" stroke="#000" stroke-width="2"/>
<line x1="99.80" y1="284.40" x2="99.80" y2="341.70" stroke="#000" stroke-width="2"/>
<line x1="153.10" y1="284.40" x2="153.10" y2="341.70" stroke="#000" stroke-width="2"/>
<line x1="207.30" y1="284.40" x2="207.30" y2="341.70" stroke="#000" stroke-width="2"/>
<line x1="261.30" y1="284.40" x2="261.30" y2="341.70" stroke="#000" stroke-width="2"/>
<line x1="320.70" y1="284.40" x2="320.70" y2="341.70" stroke="#000" stroke-width="2"/>
<text x="54.75" y="304" font-size="14.4" text-anchor="middle">BWC0977</text>
<text x="54.75" y="332.2" font-size="14.4" text-anchor="middle">IC<tspan font-size="9.5" dy="1.8">50</tspan><tspan dy="-1.8"> (μM)</tspan></text>
<text x="126.45" y="304" font-size="14.4" text-anchor="middle">WT</text>
<text x="126.45" y="332.2" font-size="14.4" text-anchor="middle">0.004</text>
<text x="180.20" y="304" font-size="14.4" text-anchor="middle">D82N</text>
<text x="180.20" y="332.2" font-size="14.4" text-anchor="middle">8.07</text>
<text x="234.30" y="304" font-size="14.4" text-anchor="middle">S83L</text>
<text x="234.30" y="332.2" font-size="14.4" text-anchor="middle">0.003</text>
<text x="291.00" y="304" font-size="14.4" text-anchor="middle">M120K</text>
<text x="291.00" y="332.2" font-size="14.4" text-anchor="middle">115.8</text>
<line x1="354.30" y1="285.80" x2="684.90" y2="285.80" stroke="#000" stroke-width="2"/>
<line x1="354.30" y1="313.60" x2="684.90" y2="313.60" stroke="#000" stroke-width="2"/>
<line x1="354.30" y1="340.70" x2="684.90" y2="340.70" stroke="#000" stroke-width="2"/>
<line x1="355.30" y1="284.80" x2="355.30" y2="341.70" stroke="#000" stroke-width="2"/>
<line x1="462.90" y1="284.80" x2="462.90" y2="341.70" stroke="#000" stroke-width="2"/>
<line x1="516.80" y1="284.80" x2="516.80" y2="341.70" stroke="#000" stroke-width="2"/>
<line x1="571.30" y1="284.80" x2="571.30" y2="341.70" stroke="#000" stroke-width="2"/>
<line x1="624.60" y1="284.80" x2="624.60" y2="341.70" stroke="#000" stroke-width="2"/>
<line x1="683.90" y1="284.80" x2="683.90" y2="341.70" stroke="#000" stroke-width="2"/>
<text x="409.10" y="304" font-size="14.4" text-anchor="middle">Ciprofloxacin</text>
<text x="409.10" y="332.2" font-size="14.4" text-anchor="middle">IC<tspan font-size="9.5" dy="1.8">50</tspan><tspan dy="-1.8"> (μM)</tspan></text>
<text x="489.85" y="304" font-size="14.4" text-anchor="middle">WT</text>
<text x="489.85" y="332.2" font-size="14.4" text-anchor="middle">0.255</text>
<text x="544.05" y="304" font-size="14.4" text-anchor="middle">D82N</text>
<text x="544.05" y="332.2" font-size="14.4" text-anchor="middle">4.62</text>
<text x="597.95" y="304" font-size="14.4" text-anchor="middle">S83L</text>
<text x="597.95" y="332.2" font-size="14.4" text-anchor="middle">12.32</text>
<text x="654.25" y="304" font-size="14.4" text-anchor="middle">M120K</text>
<text x="654.25" y="332.2" font-size="14.4" text-anchor="middle">1.02</text>
</svg>
</body></html>
